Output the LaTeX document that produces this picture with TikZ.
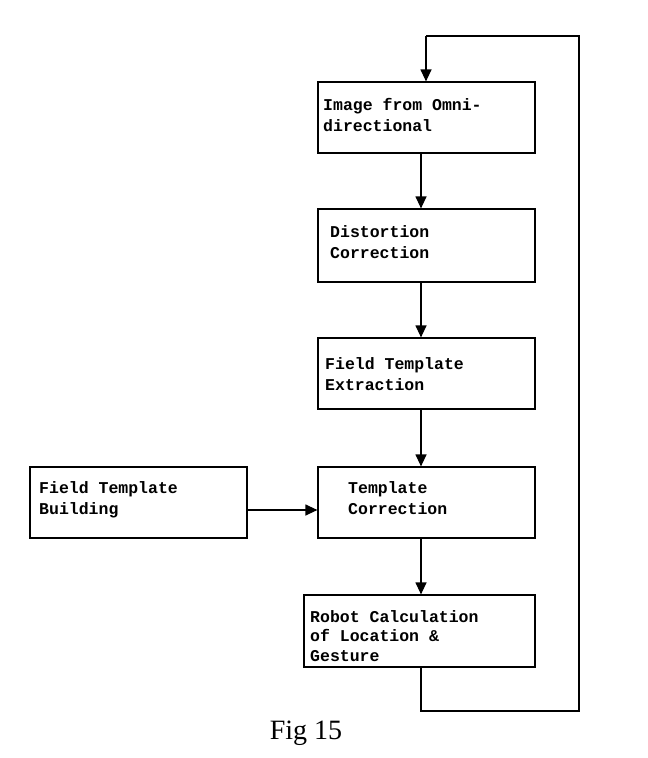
\documentclass[tikz,border=0pt]{standalone}
\usepackage{fontspec}
\setmainfont{Liberation Serif}
\newfontfamily\mono{Liberation Mono}
\usetikzlibrary{arrows.meta}
\begin{document}
\begin{tikzpicture}[x=1pt,y=-1pt,
  box/.style={draw,line width=1.2pt,inner sep=0pt},
  lbl/.style={anchor=west,align=left,inner sep=0pt,font=\mono\bfseries\fontsize{16.5}{21}\selectfont},
  arr/.style={line width=1.2pt,-{Triangle[length=12pt,width=11pt]}}]
\useasboundingbox (0,0) rectangle (648,758);
\node[box,minimum width=217pt,minimum height=71pt] (a) at (426.5,117.5) {};
\node[lbl] at (323,115) {Image from Omni-\\directional};
\node[box,minimum width=217pt,minimum height=73pt] (b) at (426.5,245.5) {};
\node[lbl] at (330,242) {Distortion\\Correction};
\node[box,minimum width=217pt,minimum height=71pt] (c) at (426.5,373.5) {};
\node[lbl] at (325,374) {Field Template\\Extraction};
\node[box,minimum width=217pt,minimum height=71pt] (d) at (426.5,502.5) {};
\node[lbl] at (348,498) {Template\\Correction};
\node[box,minimum width=217pt,minimum height=71pt] (e) at (138.5,502.5) {};
\node[lbl] at (39,500) {Field Template\\Building};
\node[box,minimum width=231pt,minimum height=72pt] (f) at (419.5,631) {};
\node[lbl,font=\mono\bfseries\fontsize{16.5}{19.5}\selectfont] at (310,636) {Robot Calculation\\of Location \&\\Gesture};
\node (cap) at (306,733) {\fontsize{28}{32}\selectfont Fig 15};
\draw[arr] (421,153) -- (b.north -| 421,0);
\draw[arr] (421,282) -- (c.north -| 421,0);
\draw[arr] (421,409) -- (d.north -| 421,0);
\draw[arr] (421,538) -- (f.north -| 421,0);
\draw[arr] (e.east |- 0,510) -- (d.west |- 0,510);
\coordinate (p1) at (421,711);
\coordinate (p2) at (579,711);
\coordinate (p3) at (579,36);
\coordinate (p4) at (426,36);
\draw[line width=1.2pt] (f.south -| p1) -- (p1) -- (p2) -- (p3) -- (p4);
\draw[arr] (p4) -- (a.north -| p4);
\end{tikzpicture}
\end{document}
